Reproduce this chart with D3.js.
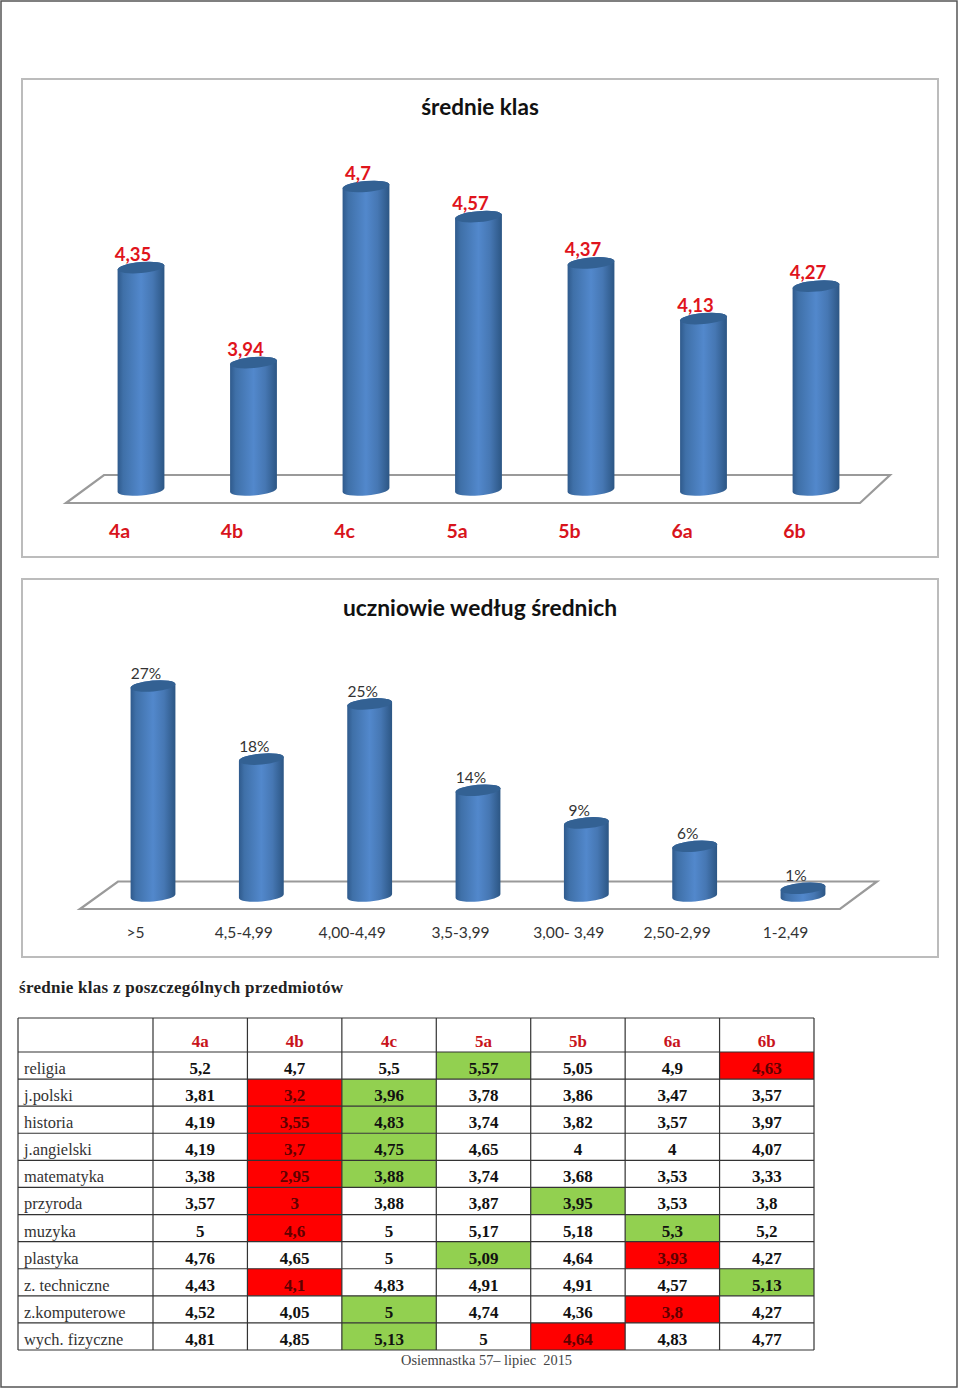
<!DOCTYPE html>
<html><head><meta charset="utf-8">
<script src="https://cdn.jsdelivr.net/npm/d3@7"></script>
<style>html,body{margin:0;padding:0;background:#fff}svg{display:block}</style></head>
<body><svg id="c" width="960" height="1390"></svg>
<script>
const classCats = ["4a","4b","4c","5a","5b","6a","6b"];
const classValues = [4.35,3.94,4.7,4.57,4.37,4.13,4.27];
const classLabels = ["4,35","3,94","4,7","4,57","4,37","4,13","4,27"];
const gradeCats = [">5","4,5-4,99","4,00-4,49","3,5-3,99","3,00- 3,49","2,50-2,99","1-2,49"];
const gradeValues = [27,17.6,24.7,13.6,9.4,6.4,1];
const subjects = ["religia","j.polski","historia","j.angielski","matematyka","przyroda","muzyka","plastyka","z. techniczne","z.komputerowe","wych. fizyczne"];
const col4a = ["5,2","3,81","4,19","4,19","3,38","3,57","5","4,76","4,43","4,52","4,81"];
const col4b = ["4,7","3,2","3,55","3,7","2,95","3","4,6","4,65","4,1","4,05","4,85"];
const col4c = ["5,5","3,96","4,83","4,75","3,88","3,88","5","5","4,83","5","5,13"];
const col5a = ["5,57","3,78","3,74","4,65","3,74","3,87","5,17","5,09","4,91","4,74","5"];
const col5b = ["5,05","3,86","3,82","4","3,68","3,95","5,18","4,64","4,91","4,36","4,64"];
const col6a = ["4,9","3,47","3,57","4","3,53","3,53","5,3","3,93","4,57","3,8","4,83"];
const col6b = ["4,63","3,57","3,97","4,07","3,33","3,8","5,2","4,27","5,13","4,27","4,77"];
const tableCols = [col4a,col4b,col4c,col5a,col5b,col6a,col6b];

const svg = d3.select("#c");
const SANS = "Lato, 'Open Sans', sans-serif", SERIF = "'Liberation Serif', serif";
const defs = svg.append("defs");
const grad = defs.append("linearGradient").attr("id","cyl");
[[0,"#2f5a8c"],[.12,"#3f70a8"],[.5,"#5288cc"],[.75,"#4677b3"],[1,"#2c5684"]].forEach(s=>grad.append("stop").attr("offset",s[0]).attr("stop-color",s[1]));

// page border
svg.append("rect").attr("x",1).attr("y",1).attr("width",956).attr("height",1386).attr("fill","#fff").attr("stroke","#555").attr("stroke-width",1.5);

function chart(o){
  const g = svg.append("g");
  g.append("rect").attr("x",o.frame[0]).attr("y",o.frame[1]).attr("width",o.frame[2]-o.frame[0]).attr("height",o.frame[3]-o.frame[1])
    .attr("fill","#fff").attr("stroke","#bcbcbc").attr("stroke-width",2);
  g.append("text").attr("x",480).attr("y",o.titleY).attr("text-anchor","middle").attr("font-family",SANS).attr("font-weight",700)
    .attr("font-size",o.titleSize).attr("fill","#111").text(o.title);
  g.append("polygon").attr("points",o.floor.map(p=>p.join(",")).join(" ")).attr("fill","none").attr("stroke","#9a9a9a").attr("stroke-width",2.2);
  const x = d3.scalePoint().domain(o.cats).range(o.xRange);
  const y = d3.scaleLinear().domain(o.domain).range(o.yRange);
  const a = 5*Math.PI/180, rx=o.rx, ry=o.ry, dx=rx*Math.cos(a), dy=rx*Math.sin(a);
  const data = o.cats.map((c,i)=>({c,v:o.values[i],l:o.labels[i]}));
  const bars = g.selectAll("g.b").data(data).join("g").attr("class","b");
  bars.append("path").attr("fill","url(#cyl)").attr("d",d=>{
    const cx=x(d.c), t=y(d.v), b=y(o.domain[0]);
    return `M${cx-dx},${t+dy}L${cx-dx},${b+dy}A${rx},${ry} -5 0 0 ${cx+dx},${b-dy}L${cx+dx},${t-dy}A${rx},${ry} -5 0 0 ${cx-dx},${t+dy}Z`;
  });
  bars.append("ellipse").attr("cx",0).attr("cy",0).attr("rx",rx).attr("ry",ry).attr("fill","#336193")
    .attr("transform",d=>`translate(${x(d.c)},${y(d.v)}) rotate(-5)`);
  const lab = o.labelStyle;
  bars.append("text").attr("x",d=>x(d.c)+lab.dx).attr("y",d=>y(d.v)+lab.dy).attr("text-anchor","middle").attr("font-family",SANS)
    .attr("font-weight",lab.w).attr("font-size",lab.size).attr("fill",lab.fill).text(d=>d.l);
  const axis = d3.axisBottom(x).tickSize(0).tickPadding(0);
  const ag = g.append("g").attr("transform",`translate(${o.catDx},${o.catY})`).call(axis);
  ag.select(".domain").remove();
  ag.selectAll("text").attr("font-family",SANS).attr("font-size",o.catStyle.size).attr("font-weight",o.catStyle.w).attr("fill",o.catStyle.fill).attr("dy",0).attr("y",0);
}
chart({frame:[22,79,938,557],title:"średnie klas",titleY:115,titleSize:22.5,
  floor:[[66,503],[860,503],[890,475],[104,475]],cats:classCats,values:classValues,labels:classLabels,
  xRange:[141,816],domain:[3.39,4.7],yRange:[490,186.5],rx:23.5,ry:5.5,
  labelStyle:{dx:-8,dy:-7,size:18.5,w:700,fill:"#e0141c"},catDx:-22,catY:538,catStyle:{size:19.5,w:700,fill:"#d8141c"}});
chart({frame:[22,579,938,957],title:"uczniowie według średnich",titleY:616,titleSize:22.8,
  floor:[[80,909],[840,909],[877,881.5],[118,881.5]],cats:gradeCats,values:gradeValues,labels:["27%","18%","25%","14%","9%","6%","1%"],
  xRange:[153,803],domain:[0,27],yRange:[896,686],rx:22.5,ry:5.5,
  labelStyle:{dx:-7,dy:-7,size:15.5,w:400,fill:"#333"},catDx:-18,catY:938,catStyle:{size:15.6,w:400,fill:"#333"}});

// table
svg.append("text").attr("x",19).attr("y",993).attr("font-family",SERIF).attr("font-weight",700).attr("font-size",17).attr("letter-spacing",0.27).attr("fill","#222").text("średnie klas z poszczególnych przedmiotów");
const colX = d3.scaleBand().domain(classCats).range([153,814]);
const rowY = d3.scaleBand().domain(subjects).range([1052,1350]);
const T = svg.append("g");
const num = s=>+s.replace(",",".");
subjects.forEach((s,r)=>{
  const vals = tableCols.map(c=>num(c[r])), mn=d3.min(vals), mx=d3.max(vals);
  classCats.forEach((c,i)=>{
    const v=vals[i], col = v===mn?"#ff0000":v===mx?"#92d050":"none";
    if(col!=="none") T.append("rect").attr("x",colX(c)).attr("y",rowY(s)).attr("width",colX.bandwidth()).attr("height",rowY.bandwidth()).attr("fill",col);
    T.append("text").attr("x",colX(c)+colX.bandwidth()/2).attr("y",rowY(s)+22).attr("text-anchor","middle").attr("font-family",SERIF)
      .attr("font-weight",700).attr("font-size",17).attr("fill",col==="#ff0000"?"#600000":"#111").text(tableCols[i][r]);
  });
  T.append("text").attr("x",24).attr("y",rowY(s)+22).attr("font-family",SERIF).attr("font-size",16.4).attr("fill","#333").text(s);
});
classCats.forEach(c=>T.append("text").attr("x",colX(c)+colX.bandwidth()/2).attr("y",1047).attr("text-anchor","middle").attr("font-family",SERIF)
  .attr("font-weight",700).attr("font-size",17).attr("fill","#c8141c").text(c));
const LINE="#333";
[18,...classCats.map(c=>colX(c)),814].forEach(x=>T.append("line").attr("x1",x).attr("x2",x).attr("y1",1018).attr("y2",1350).attr("stroke",LINE).attr("stroke-width",1.2));
[1018,...subjects.map(s=>rowY(s)),1350].forEach(y=>T.append("line").attr("x1",18).attr("x2",814).attr("y1",y).attr("y2",y).attr("stroke",LINE).attr("stroke-width",1.2));
svg.append("text").attr("x",401).attr("y",1365).attr("font-family",SERIF).attr("font-size",14.4).attr("fill","#444").text("Osiemnastka 57– lipiec\u00A0 2015");
</script></body></html>
